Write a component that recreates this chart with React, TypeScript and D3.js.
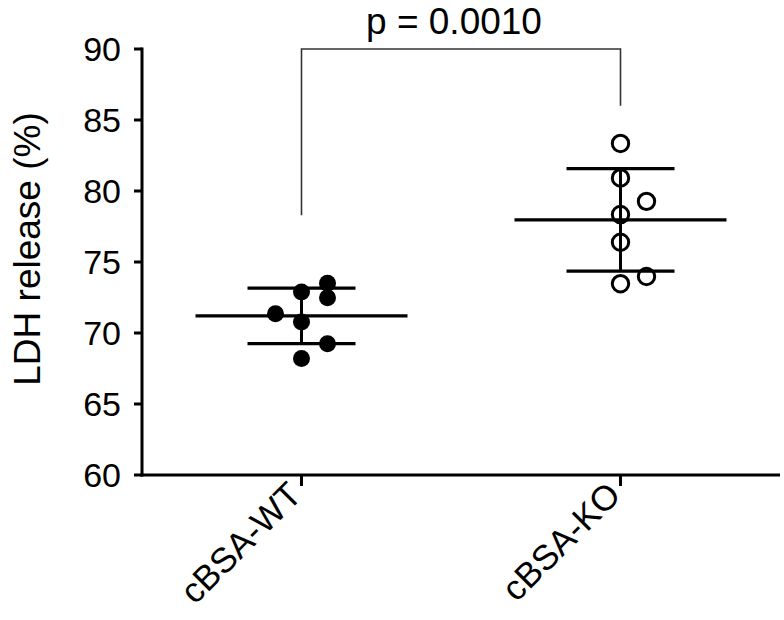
import * as d3 from "d3";

// group names shown under the x axis
const groups = ["cBSA-WT", "cBSA-KO"];

// LDH release (%) per replicate
const wtValues = [72.88, 73.51, 72.48, 71.36, 70.77, 69.25, 68.2];
const koValues = [83.35, 80.92, 79.27, 78.34, 76.39, 73.98, 73.47];

// scatter lane of each point (-1 left, 0 centre, 1 right), as GraphPad spreads them
const wtLanes = [0, 1, 1, -1, 0, 1, 0];
const koLanes = [0, 0, 1, 0, 0, 1, 0];

const yTicks = [60, 65, 70, 75, 80, 85, 90];
const yTitle = "LDH release (%)";

// significance bracket: left leg end, top, right leg end (in % units)
const bracketLevels = [78.3, 90, 86];
const pLabel = "p = 0.0010";

const W = 784;
const H = 620;
const FONT = "Arial, 'Liberation Sans', Helvetica, sans-serif";

const App = () => {
  const x = d3.scalePoint<string>().domain(groups).range([142, 780]).padding(0.5);
  const y = d3.scaleLinear().domain([60, 90]).range([475, 49]);

  const laneGap = 26;
  const meanHalf = 106;
  const sdHalf = 54;
  const r = 8.2;

  const series = [
    { name: groups[0], values: wtValues, lanes: wtLanes, filled: true },
    { name: groups[1], values: koValues, lanes: koLanes, filled: false },
  ];

  const [lb, top, rb] = bracketLevels;
  const bx0 = x(groups[0])!;
  const bx1 = x(groups[1])!;

  return (
    <svg
      width={W}
      height={H}
      style={{ position: "absolute", left: 0, top: 0, background: "#fff" }}
      fontFamily={FONT}
    >
      {/* y axis */}
      <line x1={142} x2={142} y1={y(90) - 1.5} y2={y(60) + 1.5} stroke="#000" strokeWidth={3} />
      {yTicks.map((t) => (
        <g key={t}>
          <line x1={134} x2={142} y1={y(t)} y2={y(t)} stroke="#000" strokeWidth={3} />
          <text x={121} y={y(t)} dy="0.36em" textAnchor="end" fontSize={34} fill="#000">
            {t}
          </text>
        </g>
      ))}
      <text
        transform={`translate(40,249) rotate(-90)`}
        textAnchor="middle"
        fontSize={37}
        fill="#000"
      >
        {yTitle}
      </text>

      {/* x axis */}
      <line x1={140.5} x2={780} y1={y(60)} y2={y(60)} stroke="#000" strokeWidth={3} />
      {groups.map((g) => (
        <g key={g}>
          <line x1={x(g)} x2={x(g)} y1={y(60)} y2={y(60) + 11} stroke="#000" strokeWidth={3} />
          <text
            transform={`translate(${x(g)! + 2},${y(60) + 22}) rotate(-45)`}
            textAnchor="end"
            fontSize={35}
            fill="#000"
          >
            {g}
          </text>
        </g>
      ))}

      {/* bracket */}
      <path
        d={`M${bx0},${y(lb)}V${y(top)}H${bx1}V${y(rb)}`}
        fill="none"
        stroke="#333"
        strokeWidth={1.6}
      />
      <text x={(bx0 + bx1) / 2 - 7} y={y(top) - 15} textAnchor="middle" fontSize={37} fill="#000">
        {pLabel}
      </text>

      {/* groups: mean ± SD and points */}
      {series.map((s) => {
        const cx = x(s.name)!;
        const m = d3.mean(s.values)!;
        const sd = d3.deviation(s.values)!;
        return (
          <g key={s.name}>
            <line x1={cx} x2={cx} y1={y(m + sd)} y2={y(m - sd)} stroke="#000" strokeWidth={3} />
            <line x1={cx - meanHalf} x2={cx + meanHalf} y1={y(m)} y2={y(m)} stroke="#000" strokeWidth={3.2} />
            <line x1={cx - sdHalf} x2={cx + sdHalf} y1={y(m + sd)} y2={y(m + sd)} stroke="#000" strokeWidth={3.2} />
            <line x1={cx - sdHalf} x2={cx + sdHalf} y1={y(m - sd)} y2={y(m - sd)} stroke="#000" strokeWidth={3.2} />
            {s.values.map((v, i) => (
              <circle
                key={i}
                cx={cx + s.lanes[i] * laneGap}
                cy={y(v)}
                r={s.filled ? r + 0.3 : r}
                fill={s.filled ? "#000" : "none"}
                stroke="#000"
                strokeWidth={s.filled ? 0 : 3}
              />
            ))}
          </g>
        );
      })}
    </svg>
  );
};

export default App;
